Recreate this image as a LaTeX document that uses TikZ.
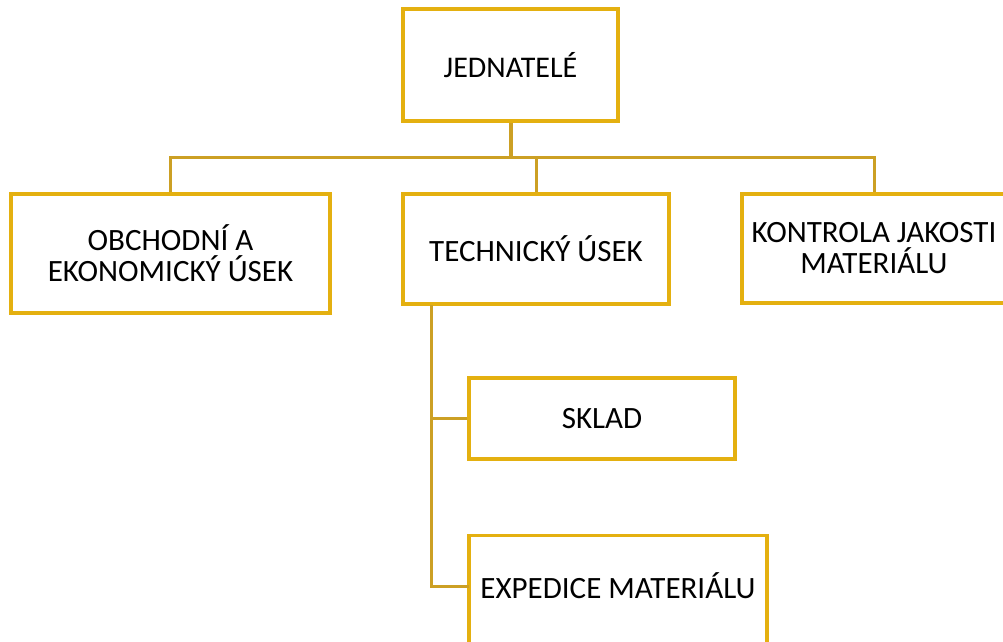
\documentclass[tikz,border=0pt]{standalone}
\usepackage{fontspec}
\setmainfont{Carlito}
\definecolor{boxc}{RGB}{228,176,16}
\definecolor{linec}{RGB}{204,160,36}
\tikzset{
  obox/.style={draw=boxc, line width=3.4pt, fill=white, inner sep=0pt, align=center,
    font=\fontsize{31}{31}\selectfont},
  otext/.style={inner sep=0pt, align=center, font=\fontsize{31}{31}\selectfont},
  conn/.style={draw=linec, line width=3pt},
}
\begin{document}
\begin{tikzpicture}[x=1pt,y=-1pt]
\useasboundingbox (0,0) rectangle (1003,641);
\clip (0,0) rectangle (1003,641);
\node[obox, minimum width=215, minimum height=112, font=\fontsize{30}{31}\selectfont] (j) at (510.5,65) {JEDNATELÉ};
\node[obox, minimum width=319, minimum height=119] (ob) at (170.5,253.5) {OBCHODNÍ A\\EKONOMICKÝ ÚSEK};
\node[obox, minimum width=266, minimum height=110] (te) at (536,249) {TECHNICKÝ ÚSEK};
\node[obox, minimum width=264, minimum height=109] (ko) at (874,248.5) {KONTROLA JAKOSTI\\MATERIÁLU};
\node[obox, minimum width=266, minimum height=81] (sk) at (602,418.5) {SKLAD};
\node[obox, minimum width=298, minimum height=120, anchor=north] (ex) at (618,534) {};
\node[otext] (exl) at (618,586) {EXPEDICE MATERIÁLU};
\coordinate (bus) at (510,157);
\coordinate (tv) at (431,305);
\coordinate (exin) at (469,586);
\draw[conn, line width=4pt] (j.south) -- (j.south |- bus);
\draw[conn] (ob.north) |- (ko.north |- bus) -- (ko.north);
\draw[conn] (te.north) -- (te.north |- bus);
\draw[conn] (tv) |- (exin);
\draw[conn] (tv |- sk.west) -- (sk.west);
\end{tikzpicture}
\end{document}
